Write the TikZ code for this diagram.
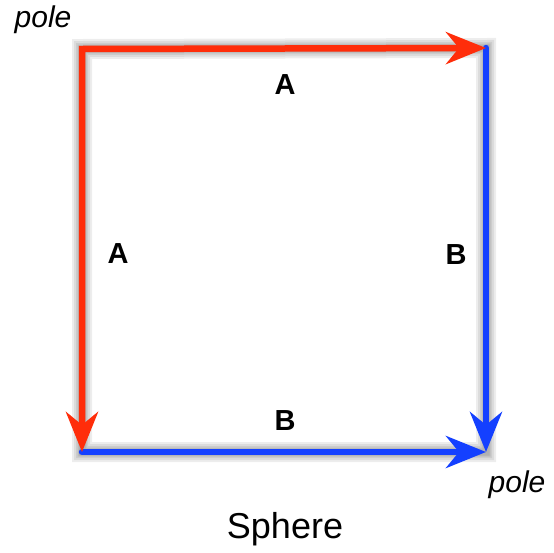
\documentclass[tikz,border=0pt]{standalone}
\usepackage{fontspec}
\setmainfont{Liberation Sans}
\usetikzlibrary{arrows.meta}
\definecolor{edgeRed}{HTML}{FF2D0A}
\definecolor{edgeBlue}{HTML}{1440FF}
\tikzset{
  tip/.style={-{Stealth[length=40pt,width=32pt,inset=13pt]}},
  edge/.style={line width=6.5pt},
  glued/.style={font=\fontsize{29}{32}\selectfont\bfseries, anchor=base},
  polelabel/.style={font=\fontsize{30}{34}\selectfont\itshape},
  shade/.style={line width=#1, black, opacity=0.07, line cap=round}
}
\begin{document}
\begin{tikzpicture}[x=1pt,y=-1pt]
  \useasboundingbox (0,0) rectangle (554,552);
  \coordinate (nw) at (82,49);
  \coordinate (ne) at (486,48);
  \coordinate (sw) at (82,452);
  \coordinate (se) at (486,452);
  \foreach \w in {20,16,12,9,7}{
    \draw[shade=\w pt, shift={(5,7)}] (nw) -- (ne) -- (se) -- (sw) -- cycle;
  }
  \draw[edge, edgeBlue, line cap=round, tip] (ne) -- (se);
  \draw[edge, edgeBlue, line cap=round, tip] (sw) -- (se);
  \draw[edge, edgeRed, {Stealth[length=40pt,width=32pt,inset=13pt]}-{Stealth[length=40pt,width=32pt,inset=13pt]}] (ne) -- (nw) -- (sw);
  \node[polelabel] (poleA) at (43,20) {pole};
  \node[polelabel] (poleB) at (517,485) {pole};
  \node[glued] (topA) at (285,94) {A};
  \node[glued] (leftA) at (118,263) {A};
  \node[glued] (rightB) at (456,264) {B};
  \node[glued] (botB) at (285,430) {B};
  \node[font=\fontsize{36}{40}\selectfont, anchor=base] (title) at (285,538) {Sphere};
\end{tikzpicture}
\end{document}
